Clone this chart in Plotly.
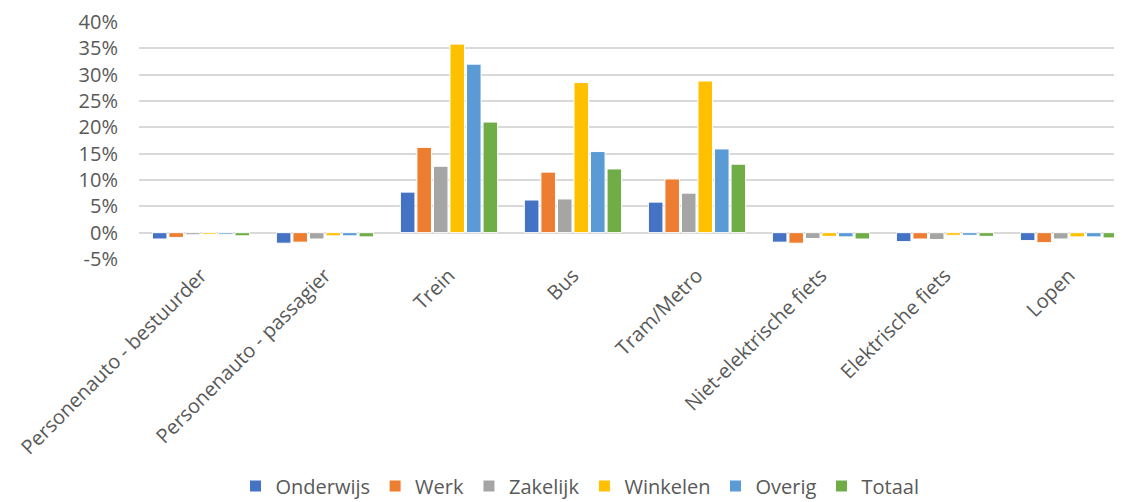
import plotly.graph_objects as go

categories = ["Personenauto - bestuurder", "Personenauto - passagier", "Trein", "Bus",
              "Tram/Metro", "Niet-elektrische fiets", "Elektrische fiets", "Lopen"]
series_names = ["Onderwijs", "Werk", "Zakelijk", "Winkelen", "Overig", "Totaal"]
onderwijs = [-1.2, -2.0, 7.7, 6.2, 5.8, -1.8, -1.7, -1.5]
werk      = [-0.9, -1.8, 16.2, 11.5, 10.2, -2.0, -1.2, -1.9]
zakelijk  = [-0.4, -1.2, 12.6, 6.4, 7.5, -1.1, -1.3, -1.2]
winkelen  = [-0.3, -0.6, 35.8, 28.5, 28.8, -0.7, -0.5, -0.8]
overig    = [-0.3, -0.6, 32.0, 15.4, 15.9, -0.8, -0.5, -0.8]
totaal    = [-0.6, -0.8, 21.0, 12.1, 13.0, -1.2, -0.7, -1.0]
series_values = [onderwijs, werk, zakelijk, winkelen, overig, totaal]
colors = ["#4472C4", "#ED7D31", "#A5A5A5", "#FFC000", "#5B9BD5", "#70AD47"]
tick_vals = [-5, 0, 5, 10, 15, 20, 25, 30, 35, 40]
tick_text = ["-5%", "0%", "5%", "10%", "15%", "20%", "25%", "30%", "35%", "40%"]

FONT = "Open Sans"
TXT = "#595959"

fig = go.Figure()
for name, vals, col in zip(series_names, series_values, colors):
    fig.add_trace(go.Bar(
        name=name, x=categories, y=vals,
        marker=dict(color=col, line=dict(color="white", width=1)),
    ))

# page body has an 8px margin; figure sized to fit the window
W, H = 1114, 494
L, T, B = 131, 14, 243
fig.update_layout(
    width=W, height=H,
    margin=dict(l=L, r=0, t=T, b=B, pad=0, autoexpand=False),
    paper_bgcolor="white", plot_bgcolor="white",
    barmode="group", bargap=0.2, bargroupgap=0.12,
    font=dict(family=FONT, size=20, color=TXT),
    showlegend=True,
    legend=dict(
        orientation="h", xref="container", x=572 / W, xanchor="center",
        yref="container", y=1 - 478 / H, yanchor="middle",
        font=dict(family=FONT, size=20, color=TXT),
        traceorder="normal", itemwidth=30,
    ),
)
fig.update_xaxes(
    type="category", range=[-0.5, -0.5 + (W - L) / 124.0], automargin=False,
    tickangle=-45, showgrid=False, showline=False, zeroline=False,
    tickfont=dict(family=FONT, size=20, color=TXT),
)
fig.update_yaxes(
    range=[-5, 40], tickvals=tick_vals, ticktext=tick_text, automargin=False,
    showgrid=True, gridcolor="#D9D9D9", gridwidth=1.5,
    zeroline=True, zerolinecolor="#D9D9D9", zerolinewidth=1.5,
    showline=False, ticklabelstandoff=20,
    tickfont=dict(family=FONT, size=20, color=TXT),
)
fig.write_html("out.html")
